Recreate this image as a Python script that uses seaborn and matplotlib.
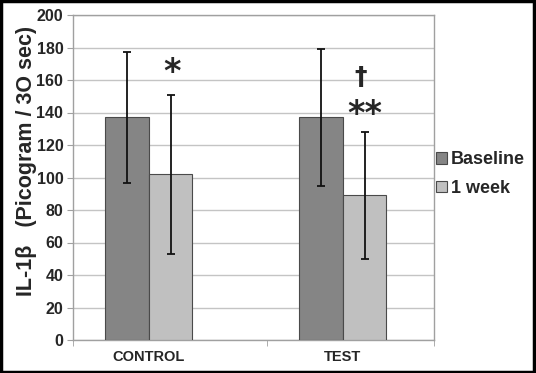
import pandas as pd
import matplotlib
matplotlib.use("Agg")
import matplotlib.pyplot as plt
import seaborn as sns
from matplotlib.patches import Rectangle

groups = ["CONTROL", "TEST"]
periods = ["Baseline", "1 week"]
means_baseline = [137, 137]
means_week = [102, 89]
sd_baseline = [40.5, 42]
sd_week = [49, 39]

df = pd.DataFrame({
    "group": groups * 2,
    "period": [periods[0]] * 2 + [periods[1]] * 2,
    "value": means_baseline + means_week,
    "sd": sd_baseline + sd_week,
})

sns.set_style("white")
plt.rcParams["font.family"] = ["Liberation Sans", "DejaVu Sans"]

fig = plt.figure(figsize=(5.36, 3.73), dpi=100)
ax = fig.add_axes([73 / 536, 33 / 373, 361 / 536, 325 / 373])

pal = {"Baseline": "#858585", "1 week": "#c0c0c0"}
sns.barplot(data=df, x="group", y="value", hue="period", order=groups,
            hue_order=periods, palette=pal, width=0.45, edgecolor="#4a4a4a",
            linewidth=0.8, saturation=1, errorbar=None, ax=ax, zorder=3)

# error bars at bar centres
for cont, per in zip(ax.containers, periods):
    sub = df[df.period == per].set_index("group").loc[groups]
    xs = [p.get_x() + p.get_width() / 2 for p in cont.patches]
    ax.errorbar(xs, sub["value"], yerr=sub["sd"], fmt="none", ecolor="#111111",
                elinewidth=1.3, capsize=3, capthick=1.3, zorder=4)

# significance marks above the 1 week bars
wk = ax.containers[1].patches
cx = [p.get_x() + p.get_width() / 2 for p in wk]
star = dict(ha="center", va="baseline", fontweight="bold", family="DejaVu Sans")
ax.text(cx[0] + 0.01, 159, "*", fontsize=24, **star)
ax.text(cx[1], 133, "**", fontsize=24, **star)
ax.text(cx[1] - 0.02, 157.5, "†", fontsize=18, **star)

ax.set_ylim(0, 200)
ax.set_xlim(-0.39, 1.47)
ax.set_yticks(range(0, 201, 20))
ax.set_xticks([-0.39, 0.61, 1.47], minor=True)
ax.yaxis.grid(True, color="#c4c4c4", linewidth=1, zorder=0)
for s in ax.spines.values():
    s.set_color("#a0a0a0")
    s.set_linewidth(1)
ax.tick_params(axis="y", labelsize=11.5, length=4, color="#a0a0a0", direction="out", left=True, pad=3)
ax.tick_params(axis="x", which="major", labelsize=10.5, length=0, pad=7)
ax.tick_params(axis="x", which="minor", length=4, color="#a0a0a0", direction="out", bottom=True)
for t in ax.get_yticklabels() + ax.get_xticklabels():
    t.set_fontweight("bold")
ax.set_xlabel("")
ax.set_ylabel("IL-1β   (Picogram / 3O sec)", fontsize=15.5, fontweight="bold")
ax.yaxis.set_label_coords(-0.1, 0.55)

leg = ax.legend(loc="center left", bbox_to_anchor=(1.0, 0.51), frameon=False,
                prop={"size": 13, "weight": "bold"}, handlelength=0.6,
                handleheight=0.6, handletextpad=0.25, labelspacing=0.65,
                borderaxespad=0.0, borderpad=0.1)

fig.patches.append(Rectangle((0.002, 0.003), 0.995, 0.993, transform=fig.transFigure,
                             fill=False, edgecolor="black", linewidth=2.5))

fig.savefig("out.png", dpi=100)
